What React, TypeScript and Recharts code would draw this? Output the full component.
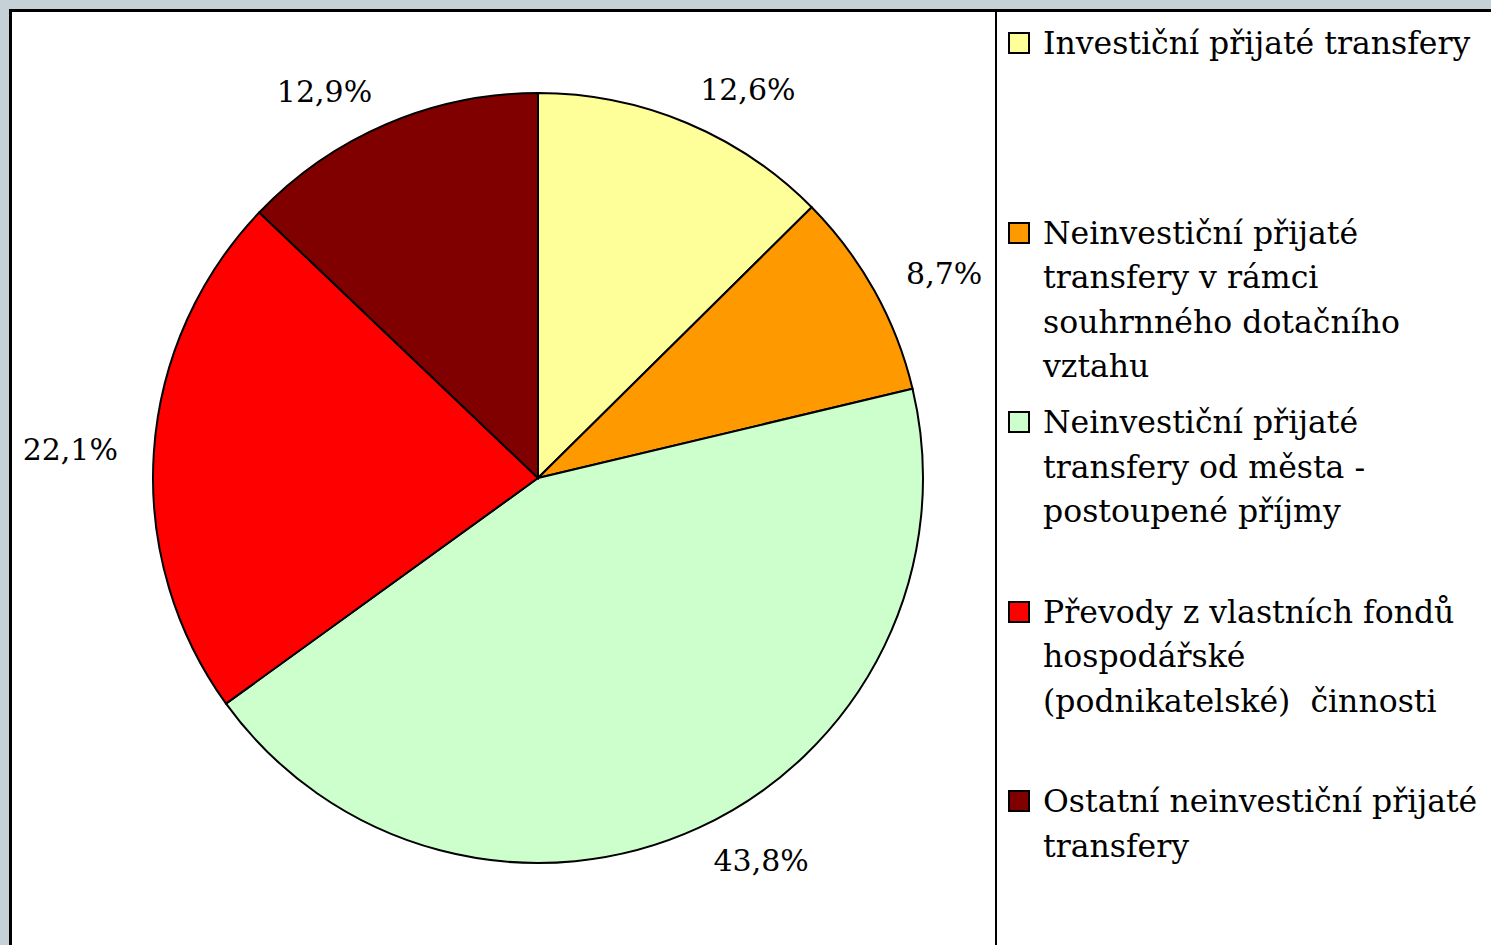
import { Legend, Pie, PieChart } from "recharts";

const categories = [
  "Investiční přijaté transfery",
  "Neinvestiční přijaté\ntransfery v rámci\nsouhrnného dotačního\nvztahu",
  "Neinvestiční přijaté\ntransfery od města -\npostoupené příjmy",
  "Převody z vlastních fondů\nhospodářské\n(podnikatelské)  činnosti",
  "Ostatní neinvestiční přijaté\ntransfery",
];
const shares = [12.6, 8.7, 43.8, 22.1, 12.9];
const colors = ["#FFFF99", "#FF9900", "#CCFFCC", "#FF0000", "#800000"];

const FONT = "'DejaVu Serif', Georgia, serif";
const RAD = Math.PI / 180;

const data = categories.map((name, i) => ({ name, value: shares[i], fill: colors[i] }));

function pct(v: number) {
  return `${v.toFixed(1).replace(".", ",")}%`;
}

function renderLabel(props: any) {
  const { cx, cy, midAngle, outerRadius, value } = props;
  const r = outerRadius + 36;
  const x = cx + r * Math.cos(-midAngle * RAD);
  const y = cy + r * Math.sin(-midAngle * RAD);
  return (
    <text
      x={x}
      y={y}
      fill="#000"
      fontFamily={FONT}
      fontSize={30}
      textAnchor={x > cx ? "start" : "end"}
      dominantBaseline="central"
    >
      {pct(value)}
    </text>
  );
}

function LegendBox() {
  return (
    <div style={{ fontFamily: FONT, fontSize: 31.5, lineHeight: "44.5px", color: "#000" }}>
      {data.map((d) => (
        <div key={d.name} style={{ position: "relative", height: 189.5, paddingLeft: 35 }}>
          <div
            style={{
              position: "absolute",
              left: 0,
              top: 11,
              width: 18,
              height: 18,
              background: d.fill,
              border: "2px solid #000",
            }}
          />
          <div style={{ whiteSpace: "pre", width: 460 }}>{d.name}</div>
        </div>
      ))}
    </div>
  );
}

export default function App() {
  return (
    <div
      style={{
        position: "fixed",
        left: 0,
        top: 0,
        width: 1491,
        height: 945,
        background: "#C5D0D7",
        overflow: "hidden",
      }}
    >
      <div
        style={{
          position: "absolute",
          left: 9,
          top: 9,
          width: 1500,
          height: 960,
          background: "#fff",
          borderLeft: "3px solid #000",
          borderTop: "3px solid #000",
        }}
      />
      <div
        style={{ position: "absolute", left: 995, top: 10, width: 2, height: 960, background: "#000" }}
      />
      <div style={{ position: "absolute", left: 0, top: 0 }}>
        <PieChart width={1491} height={945} margin={{ top: 0, right: 0, bottom: 0, left: 0 }}>
          <Pie
            data={data}
            dataKey="value"
            nameKey="name"
            cx={538}
            cy={478}
            outerRadius={385}
            startAngle={90}
            endAngle={-270}
            stroke="#000"
            strokeWidth={2}
            label={renderLabel}
            labelLine={false}
            isAnimationActive={false}
          />
          <Legend
            layout="vertical"
            verticalAlign="top"
            align="right"
            content={() => <LegendBox />}
            wrapperStyle={{ position: "absolute", left: 1008, top: 21, width: 483 }}
          />
        </PieChart>
      </div>
    </div>
  );
}
